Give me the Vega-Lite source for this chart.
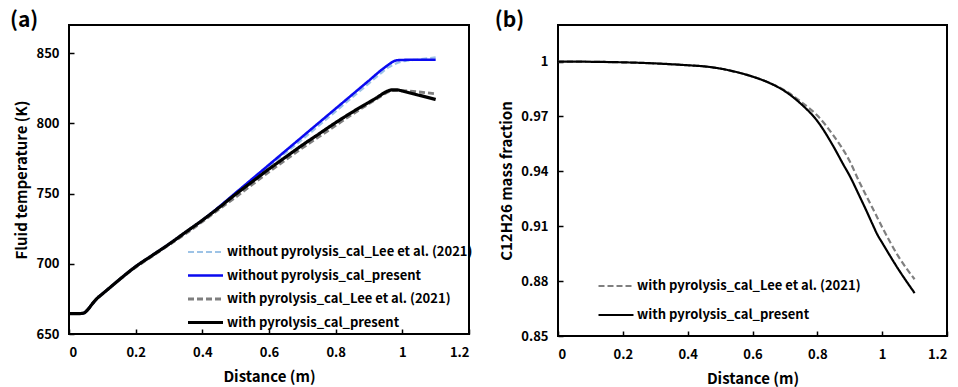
{
  "$schema": "https://vega.github.io/schema/vega-lite/v6.json",
  "background": "white",
  "padding": {"left": 8, "top": 9, "right": 0, "bottom": 0},
  "autosize": {"type": "pad"},
  "datasets": {
    "temp": [
      {"d": 0, "T": 664.5, "s": "without pyrolysis_cal_Lee et al. (2021)"},
      {"d": 0.03, "T": 664.5, "s": "without pyrolysis_cal_Lee et al. (2021)"},
      {"d": 0.045, "T": 665, "s": "without pyrolysis_cal_Lee et al. (2021)"},
      {"d": 0.055, "T": 667, "s": "without pyrolysis_cal_Lee et al. (2021)"},
      {"d": 0.07, "T": 671.5, "s": "without pyrolysis_cal_Lee et al. (2021)"},
      {"d": 0.085, "T": 675.5, "s": "without pyrolysis_cal_Lee et al. (2021)"},
      {"d": 0.1, "T": 678.5, "s": "without pyrolysis_cal_Lee et al. (2021)"},
      {"d": 0.125, "T": 683.5, "s": "without pyrolysis_cal_Lee et al. (2021)"},
      {"d": 0.15, "T": 688.5, "s": "without pyrolysis_cal_Lee et al. (2021)"},
      {"d": 0.2, "T": 698, "s": "without pyrolysis_cal_Lee et al. (2021)"},
      {"d": 0.25, "T": 706, "s": "without pyrolysis_cal_Lee et al. (2021)"},
      {"d": 0.3, "T": 714, "s": "without pyrolysis_cal_Lee et al. (2021)"},
      {"d": 0.35, "T": 722.5, "s": "without pyrolysis_cal_Lee et al. (2021)"},
      {"d": 0.4, "T": 731, "s": "without pyrolysis_cal_Lee et al. (2021)"},
      {"d": 0.45, "T": 740.5, "s": "without pyrolysis_cal_Lee et al. (2021)"},
      {"d": 0.5, "T": 750.5, "s": "without pyrolysis_cal_Lee et al. (2021)"},
      {"d": 0.55, "T": 760, "s": "without pyrolysis_cal_Lee et al. (2021)"},
      {"d": 0.6, "T": 769.5, "s": "without pyrolysis_cal_Lee et al. (2021)"},
      {"d": 0.65, "T": 779, "s": "without pyrolysis_cal_Lee et al. (2021)"},
      {"d": 0.7, "T": 788.5, "s": "without pyrolysis_cal_Lee et al. (2021)"},
      {"d": 0.75, "T": 798.5, "s": "without pyrolysis_cal_Lee et al. (2021)"},
      {"d": 0.8, "T": 808.5, "s": "without pyrolysis_cal_Lee et al. (2021)"},
      {"d": 0.85, "T": 818.5, "s": "without pyrolysis_cal_Lee et al. (2021)"},
      {"d": 0.9, "T": 828.5, "s": "without pyrolysis_cal_Lee et al. (2021)"},
      {"d": 0.94, "T": 836.5, "s": "without pyrolysis_cal_Lee et al. (2021)"},
      {"d": 0.96, "T": 840, "s": "without pyrolysis_cal_Lee et al. (2021)"},
      {"d": 0.98, "T": 842.5, "s": "without pyrolysis_cal_Lee et al. (2021)"},
      {"d": 1.0, "T": 844, "s": "without pyrolysis_cal_Lee et al. (2021)"},
      {"d": 1.05, "T": 845.5, "s": "without pyrolysis_cal_Lee et al. (2021)"},
      {"d": 1.1, "T": 847, "s": "without pyrolysis_cal_Lee et al. (2021)"},

      {"d": 0, "T": 664.5, "s": "without pyrolysis_cal_present"},
      {"d": 0.03, "T": 664.5, "s": "without pyrolysis_cal_present"},
      {"d": 0.045, "T": 665, "s": "without pyrolysis_cal_present"},
      {"d": 0.055, "T": 667, "s": "without pyrolysis_cal_present"},
      {"d": 0.07, "T": 671.5, "s": "without pyrolysis_cal_present"},
      {"d": 0.085, "T": 675.5, "s": "without pyrolysis_cal_present"},
      {"d": 0.1, "T": 678.5, "s": "without pyrolysis_cal_present"},
      {"d": 0.125, "T": 683.5, "s": "without pyrolysis_cal_present"},
      {"d": 0.15, "T": 688.5, "s": "without pyrolysis_cal_present"},
      {"d": 0.2, "T": 698, "s": "without pyrolysis_cal_present"},
      {"d": 0.25, "T": 706, "s": "without pyrolysis_cal_present"},
      {"d": 0.3, "T": 714, "s": "without pyrolysis_cal_present"},
      {"d": 0.35, "T": 722.5, "s": "without pyrolysis_cal_present"},
      {"d": 0.4, "T": 731, "s": "without pyrolysis_cal_present"},
      {"d": 0.45, "T": 740.5, "s": "without pyrolysis_cal_present"},
      {"d": 0.5, "T": 750.5, "s": "without pyrolysis_cal_present"},
      {"d": 0.55, "T": 760.5, "s": "without pyrolysis_cal_present"},
      {"d": 0.6, "T": 770.5, "s": "without pyrolysis_cal_present"},
      {"d": 0.65, "T": 780.5, "s": "without pyrolysis_cal_present"},
      {"d": 0.7, "T": 790.5, "s": "without pyrolysis_cal_present"},
      {"d": 0.75, "T": 800.5, "s": "without pyrolysis_cal_present"},
      {"d": 0.8, "T": 810.5, "s": "without pyrolysis_cal_present"},
      {"d": 0.85, "T": 820.5, "s": "without pyrolysis_cal_present"},
      {"d": 0.9, "T": 830.5, "s": "without pyrolysis_cal_present"},
      {"d": 0.94, "T": 838.5, "s": "without pyrolysis_cal_present"},
      {"d": 0.96, "T": 842, "s": "without pyrolysis_cal_present"},
      {"d": 0.975, "T": 844.3, "s": "without pyrolysis_cal_present"},
      {"d": 0.99, "T": 845, "s": "without pyrolysis_cal_present"},
      {"d": 1.02, "T": 845.2, "s": "without pyrolysis_cal_present"},
      {"d": 1.1, "T": 845.2, "s": "without pyrolysis_cal_present"},

      {"d": 0, "T": 664.5, "s": "with pyrolysis_cal_Lee et al. (2021)"},
      {"d": 0.03, "T": 664.5, "s": "with pyrolysis_cal_Lee et al. (2021)"},
      {"d": 0.045, "T": 665, "s": "with pyrolysis_cal_Lee et al. (2021)"},
      {"d": 0.055, "T": 667, "s": "with pyrolysis_cal_Lee et al. (2021)"},
      {"d": 0.07, "T": 671.5, "s": "with pyrolysis_cal_Lee et al. (2021)"},
      {"d": 0.085, "T": 675.5, "s": "with pyrolysis_cal_Lee et al. (2021)"},
      {"d": 0.1, "T": 678.5, "s": "with pyrolysis_cal_Lee et al. (2021)"},
      {"d": 0.125, "T": 683.5, "s": "with pyrolysis_cal_Lee et al. (2021)"},
      {"d": 0.15, "T": 688.5, "s": "with pyrolysis_cal_Lee et al. (2021)"},
      {"d": 0.2, "T": 697.5, "s": "with pyrolysis_cal_Lee et al. (2021)"},
      {"d": 0.25, "T": 705.5, "s": "with pyrolysis_cal_Lee et al. (2021)"},
      {"d": 0.3, "T": 713.5, "s": "with pyrolysis_cal_Lee et al. (2021)"},
      {"d": 0.35, "T": 721.5, "s": "with pyrolysis_cal_Lee et al. (2021)"},
      {"d": 0.4, "T": 730, "s": "with pyrolysis_cal_Lee et al. (2021)"},
      {"d": 0.45, "T": 739, "s": "with pyrolysis_cal_Lee et al. (2021)"},
      {"d": 0.5, "T": 747.5, "s": "with pyrolysis_cal_Lee et al. (2021)"},
      {"d": 0.55, "T": 756.5, "s": "with pyrolysis_cal_Lee et al. (2021)"},
      {"d": 0.6, "T": 765.5, "s": "with pyrolysis_cal_Lee et al. (2021)"},
      {"d": 0.65, "T": 774, "s": "with pyrolysis_cal_Lee et al. (2021)"},
      {"d": 0.7, "T": 782.5, "s": "with pyrolysis_cal_Lee et al. (2021)"},
      {"d": 0.75, "T": 790.5, "s": "with pyrolysis_cal_Lee et al. (2021)"},
      {"d": 0.8, "T": 798.5, "s": "with pyrolysis_cal_Lee et al. (2021)"},
      {"d": 0.85, "T": 806.5, "s": "with pyrolysis_cal_Lee et al. (2021)"},
      {"d": 0.9, "T": 814, "s": "with pyrolysis_cal_Lee et al. (2021)"},
      {"d": 0.93, "T": 818.5, "s": "with pyrolysis_cal_Lee et al. (2021)"},
      {"d": 0.95, "T": 821.5, "s": "with pyrolysis_cal_Lee et al. (2021)"},
      {"d": 0.97, "T": 823.3, "s": "with pyrolysis_cal_Lee et al. (2021)"},
      {"d": 0.99, "T": 823.5, "s": "with pyrolysis_cal_Lee et al. (2021)"},
      {"d": 1.0, "T": 823.3, "s": "with pyrolysis_cal_Lee et al. (2021)"},
      {"d": 1.05, "T": 822.3, "s": "with pyrolysis_cal_Lee et al. (2021)"},
      {"d": 1.1, "T": 821, "s": "with pyrolysis_cal_Lee et al. (2021)"},

      {"d": 0, "T": 664.5, "s": "with pyrolysis_cal_present"},
      {"d": 0.03, "T": 664.5, "s": "with pyrolysis_cal_present"},
      {"d": 0.045, "T": 665, "s": "with pyrolysis_cal_present"},
      {"d": 0.055, "T": 667, "s": "with pyrolysis_cal_present"},
      {"d": 0.07, "T": 671.5, "s": "with pyrolysis_cal_present"},
      {"d": 0.085, "T": 675.5, "s": "with pyrolysis_cal_present"},
      {"d": 0.1, "T": 678.5, "s": "with pyrolysis_cal_present"},
      {"d": 0.125, "T": 683.5, "s": "with pyrolysis_cal_present"},
      {"d": 0.15, "T": 688.5, "s": "with pyrolysis_cal_present"},
      {"d": 0.2, "T": 698, "s": "with pyrolysis_cal_present"},
      {"d": 0.25, "T": 706, "s": "with pyrolysis_cal_present"},
      {"d": 0.3, "T": 714, "s": "with pyrolysis_cal_present"},
      {"d": 0.35, "T": 722.5, "s": "with pyrolysis_cal_present"},
      {"d": 0.4, "T": 731, "s": "with pyrolysis_cal_present"},
      {"d": 0.45, "T": 740, "s": "with pyrolysis_cal_present"},
      {"d": 0.5, "T": 749.5, "s": "with pyrolysis_cal_present"},
      {"d": 0.55, "T": 758.5, "s": "with pyrolysis_cal_present"},
      {"d": 0.6, "T": 767.5, "s": "with pyrolysis_cal_present"},
      {"d": 0.65, "T": 776, "s": "with pyrolysis_cal_present"},
      {"d": 0.7, "T": 784.5, "s": "with pyrolysis_cal_present"},
      {"d": 0.75, "T": 792.5, "s": "with pyrolysis_cal_present"},
      {"d": 0.8, "T": 800.5, "s": "with pyrolysis_cal_present"},
      {"d": 0.85, "T": 808, "s": "with pyrolysis_cal_present"},
      {"d": 0.9, "T": 815, "s": "with pyrolysis_cal_present"},
      {"d": 0.93, "T": 819.3, "s": "with pyrolysis_cal_present"},
      {"d": 0.95, "T": 822.3, "s": "with pyrolysis_cal_present"},
      {"d": 0.97, "T": 823.8, "s": "with pyrolysis_cal_present"},
      {"d": 0.985, "T": 823.8, "s": "with pyrolysis_cal_present"},
      {"d": 1.0, "T": 823, "s": "with pyrolysis_cal_present"},
      {"d": 1.05, "T": 820, "s": "with pyrolysis_cal_present"},
      {"d": 1.1, "T": 817, "s": "with pyrolysis_cal_present"}
    ],
    "frac": [
      {"d": 0, "y": 1.0, "s": "with pyrolysis_cal_Lee et al. (2021)"},
      {"d": 0.1, "y": 0.9999, "s": "with pyrolysis_cal_Lee et al. (2021)"},
      {"d": 0.2, "y": 0.9996, "s": "with pyrolysis_cal_Lee et al. (2021)"},
      {"d": 0.3, "y": 0.999, "s": "with pyrolysis_cal_Lee et al. (2021)"},
      {"d": 0.4, "y": 0.998, "s": "with pyrolysis_cal_Lee et al. (2021)"},
      {"d": 0.45, "y": 0.9974, "s": "with pyrolysis_cal_Lee et al. (2021)"},
      {"d": 0.5, "y": 0.9962, "s": "with pyrolysis_cal_Lee et al. (2021)"},
      {"d": 0.55, "y": 0.9943, "s": "with pyrolysis_cal_Lee et al. (2021)"},
      {"d": 0.6, "y": 0.9918, "s": "with pyrolysis_cal_Lee et al. (2021)"},
      {"d": 0.65, "y": 0.9886, "s": "with pyrolysis_cal_Lee et al. (2021)"},
      {"d": 0.7, "y": 0.9842, "s": "with pyrolysis_cal_Lee et al. (2021)"},
      {"d": 0.75, "y": 0.978, "s": "with pyrolysis_cal_Lee et al. (2021)"},
      {"d": 0.8, "y": 0.9705, "s": "with pyrolysis_cal_Lee et al. (2021)"},
      {"d": 0.85, "y": 0.9595, "s": "with pyrolysis_cal_Lee et al. (2021)"},
      {"d": 0.9, "y": 0.9455, "s": "with pyrolysis_cal_Lee et al. (2021)"},
      {"d": 0.93, "y": 0.934, "s": "with pyrolysis_cal_Lee et al. (2021)"},
      {"d": 0.96, "y": 0.9235, "s": "with pyrolysis_cal_Lee et al. (2021)"},
      {"d": 0.98, "y": 0.9165, "s": "with pyrolysis_cal_Lee et al. (2021)"},
      {"d": 1.0, "y": 0.9095, "s": "with pyrolysis_cal_Lee et al. (2021)"},
      {"d": 1.05, "y": 0.8935, "s": "with pyrolysis_cal_Lee et al. (2021)"},
      {"d": 1.1, "y": 0.881, "s": "with pyrolysis_cal_Lee et al. (2021)"},

      {"d": 0, "y": 1.0, "s": "with pyrolysis_cal_present"},
      {"d": 0.1, "y": 0.9999, "s": "with pyrolysis_cal_present"},
      {"d": 0.2, "y": 0.9996, "s": "with pyrolysis_cal_present"},
      {"d": 0.3, "y": 0.999, "s": "with pyrolysis_cal_present"},
      {"d": 0.4, "y": 0.998, "s": "with pyrolysis_cal_present"},
      {"d": 0.45, "y": 0.9974, "s": "with pyrolysis_cal_present"},
      {"d": 0.5, "y": 0.9962, "s": "with pyrolysis_cal_present"},
      {"d": 0.55, "y": 0.9943, "s": "with pyrolysis_cal_present"},
      {"d": 0.6, "y": 0.9918, "s": "with pyrolysis_cal_present"},
      {"d": 0.65, "y": 0.9885, "s": "with pyrolysis_cal_present"},
      {"d": 0.7, "y": 0.9838, "s": "with pyrolysis_cal_present"},
      {"d": 0.75, "y": 0.9768, "s": "with pyrolysis_cal_present"},
      {"d": 0.8, "y": 0.9675, "s": "with pyrolysis_cal_present"},
      {"d": 0.85, "y": 0.9535, "s": "with pyrolysis_cal_present"},
      {"d": 0.88, "y": 0.9438, "s": "with pyrolysis_cal_present"},
      {"d": 0.9, "y": 0.9375, "s": "with pyrolysis_cal_present"},
      {"d": 0.93, "y": 0.9265, "s": "with pyrolysis_cal_present"},
      {"d": 0.95, "y": 0.919, "s": "with pyrolysis_cal_present"},
      {"d": 0.97, "y": 0.9112, "s": "with pyrolysis_cal_present"},
      {"d": 0.985, "y": 0.9055, "s": "with pyrolysis_cal_present"},
      {"d": 1.0, "y": 0.901, "s": "with pyrolysis_cal_present"},
      {"d": 1.05, "y": 0.8865, "s": "with pyrolysis_cal_present"},
      {"d": 1.1, "y": 0.8735, "s": "with pyrolysis_cal_present"}
    ]
  },
  "hconcat": [
    {
      "width": 400,
      "height": 309,
      "title": {"text": "(a)"},
      "data": {"name": "temp"},
      "mark": {"type": "line", "interpolate": "monotone"},
      "encoding": {
        "x": {"field": "d", "type": "quantitative", "title": "Distance (m)",
              "scale": {"domain": [0, 1.2], "nice": false},
              "axis": {"values": [0, 0.2, 0.4, 0.6, 0.8, 1, 1.2], "format": "~r"}},
        "y": {"field": "T", "type": "quantitative", "title": "Fluid temperature (K)",
              "scale": {"domain": [650, 870], "nice": false, "zero": false},
              "axis": {"values": [650, 700, 750, 800, 850], "format": "d"}},
        "color": {"field": "s", "type": "nominal", "title": null,
          "scale": {"domain": ["without pyrolysis_cal_Lee et al. (2021)", "without pyrolysis_cal_present", "with pyrolysis_cal_Lee et al. (2021)", "with pyrolysis_cal_present"],
                    "range": ["#9DC3E6", "#0A0AF0", "#7F7F7F", "#000000"]},
          "legend": {"orient": "none", "legendX": 117, "legendY": 220, "rowPadding": 9.5, "clipHeight": 14}},
        "strokeDash": {"field": "s", "type": "nominal", "title": null,
          "scale": {"domain": ["without pyrolysis_cal_Lee et al. (2021)", "without pyrolysis_cal_present", "with pyrolysis_cal_Lee et al. (2021)", "with pyrolysis_cal_present"],
                    "range": [[6, 3], [1, 0], [6, 3], [1, 0]]}},
        "strokeWidth": {"field": "s", "type": "nominal", "title": null,
          "scale": {"domain": ["without pyrolysis_cal_Lee et al. (2021)", "without pyrolysis_cal_present", "with pyrolysis_cal_Lee et al. (2021)", "with pyrolysis_cal_present"],
                    "range": [2.2, 3.2, 2.2, 2.2]}}
      }
    },
    {
      "width": 389,
      "height": 311,
      "title": {"text": "(b)"},
      "data": {"name": "frac"},
      "mark": {"type": "line", "interpolate": "monotone"},
      "encoding": {
        "x": {"field": "d", "type": "quantitative", "title": "Distance (m)",
              "scale": {"domain": [0, 1.2], "nice": false},
              "axis": {"values": [0, 0.2, 0.4, 0.6, 0.8, 1, 1.2], "format": "~r"}},
        "y": {"field": "y", "type": "quantitative", "title": "C12H26 mass fraction",
              "scale": {"domain": [0.85, 1.02], "nice": false, "zero": false},
              "axis": {"values": [0.85, 0.88, 0.91, 0.94, 0.97, 1], "format": "~r"}},
        "color": {"field": "s", "type": "nominal", "title": null,
          "scale": {"domain": ["with pyrolysis_cal_Lee et al. (2021)", "with pyrolysis_cal_present"],
                    "range": ["#7F7F7F", "#000000"]},
          "legend": {"orient": "none", "legendX": 39, "legendY": 254, "rowPadding": 15, "clipHeight": 14}},
        "strokeDash": {"field": "s", "type": "nominal", "title": null,
          "scale": {"domain": ["with pyrolysis_cal_Lee et al. (2021)", "with pyrolysis_cal_present"],
                    "range": [[6, 3], [1, 0]]}},
        "strokeWidth": {"field": "s", "type": "nominal", "title": null,
          "scale": {"domain": ["with pyrolysis_cal_Lee et al. (2021)", "with pyrolysis_cal_present"],
                    "range": [2.2, 2.2]}}
      }
    }
  ],
  "spacing": 19,
  "resolve": {
    "scale": {"color": "independent", "strokeDash": "independent", "strokeWidth": "independent", "x": "independent", "y": "independent"},
    "legend": {"color": "independent", "strokeDash": "independent", "strokeWidth": "independent"}
  },
  "config": {
    "font": "Noto Sans CJK KR",
    "view": {"stroke": "#000000", "strokeWidth": 2},
    "axis": {
      "grid": false, "domain": false,
      "ticks": true, "tickSize": -5, "tickWidth": 1.5, "tickColor": "#000000",
      "labelFont": "Noto Sans CJK KR", "labelFontSize": 13, "labelFontWeight": "bold", "labelColor": "#000000",
      "labelPadding": 15,
      "titleFont": "Noto Sans CJK KR", "titleFontSize": 15, "titleFontWeight": "bold", "titleColor": "#000000"
    },
    "axisX": {"labelPadding": 17, "titlePadding": 10},
    "axisY": {"titlePadding": 6},
    "legend": {
      "symbolType": "stroke", "symbolSize": 1225, "labelOffset": 2, "padding": 0,
      "labelFont": "Noto Sans CJK KR", "labelFontSize": 13, "labelFontWeight": "bold", "labelColor": "#000000",
      "labelLimit": 400
    },
    "title": {"anchor": "start", "frame": "bounds", "fontSize": 21, "fontWeight": "bold", "color": "#000000", "font": "Noto Sans CJK KR", "dx": -5, "offset": -6}
  }
}
